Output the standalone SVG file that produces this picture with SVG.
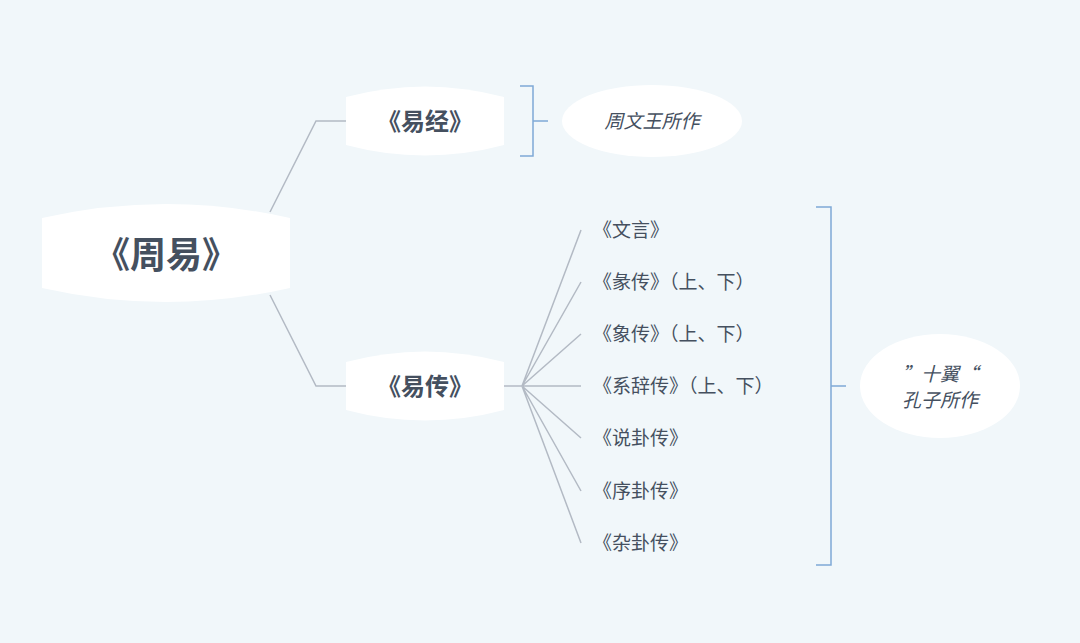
<svg xmlns="http://www.w3.org/2000/svg" width="1080" height="643" viewBox="0 0 1080 643">
<style>
.n{fill:#fff}
.c{fill:none;stroke:#b3bac4;stroke-width:1.5}
.b{fill:none;stroke:#7fa9d6;stroke-width:1.5}
text{font-family:"Noto Sans CJK SC","Noto Sans",sans-serif;fill:#45505f}
.h{font-weight:bold;text-anchor:middle}
.l{font-size:19px}
.i{font-style:italic;font-size:19px;text-anchor:middle}
</style>
<rect width="1080" height="643" fill="#f1f7fa"/>
<g id="connectors">
<path class="c" d="M270,212 L316,121 H346"/>
<path class="c" d="M270,295 L316,386 H346"/>
<path class="c" d="M504,386 H522"/>
<path class="c" d="M522,386 L581,230 M522,386 L581,282 M522,386 L581,334 M522,386 H581 M522,386 L581,438 M522,386 L581,491 M522,386 L581,543"/>
<path class="b" d="M520,86 H533 V156 H520 M533,121 H548"/>
<path class="b" d="M816,207 H831 V565 H816 M831,386 H846"/>
</g>
<g id="root"><path class="n" d="M42,218 Q166,190 290,218 V288 Q166,316 42,288 Z"/><text class="h" x="166" y="268" font-size="36">《周易》</text></g>
<g id="yijing"><path class="n" d="M346,97 Q425,76 504,97 V145 Q425,166 346,145 Z"/><text class="h" x="425" y="130" font-size="24">《易经》</text></g>
<g id="yizhuan"><path class="n" d="M346,362 Q425,341 504,362 V410 Q425,431 346,410 Z"/><text class="h" x="425" y="395" font-size="24">《易传》</text></g>
<g id="zhou"><ellipse class="n" cx="652" cy="121" rx="90" ry="36"/><text class="i" x="652" y="128">周文王所作</text></g>
<g id="shiyi"><ellipse class="n" cx="940" cy="386" rx="80" ry="52"/><text class="i" x="940" y="381">”十翼“</text><text class="i" x="940" y="407">孔子所作</text></g>
<g id="items">
<text class="l" x="593" y="237">《文言》</text>
<text class="l" x="593" y="289">《彖传》（上、下）</text>
<text class="l" x="593" y="341">《象传》（上、下）</text>
<text class="l" x="593" y="393">《系辞传》（上、下）</text>
<text class="l" x="593" y="445">《说卦传》</text>
<text class="l" x="593" y="498">《序卦传》</text>
<text class="l" x="593" y="550">《杂卦传》</text>
</g>
</svg>
